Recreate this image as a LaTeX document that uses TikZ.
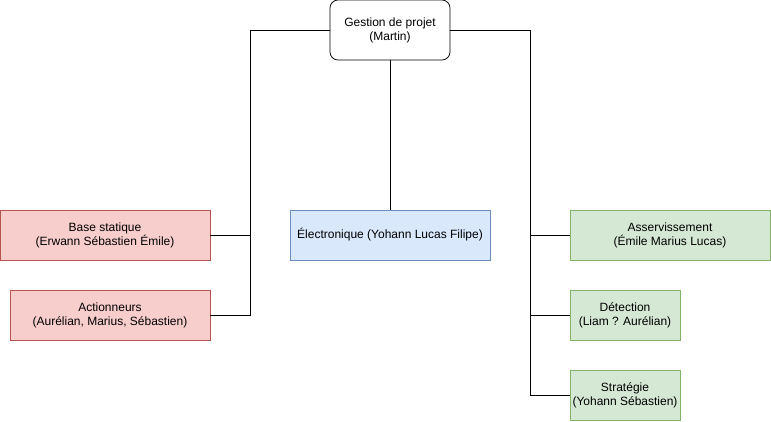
\documentclass[tikz,border=0pt]{standalone}
\usepackage{fontspec}
\setmainfont{Liberation Sans}
\definecolor{redfill}{HTML}{F8CECC}
\definecolor{redline}{HTML}{B85450}
\definecolor{bluefill}{HTML}{DAE8FC}
\definecolor{blueline}{HTML}{6C8EBF}
\definecolor{greenfill}{HTML}{D5E8D4}
\definecolor{greenline}{HTML}{82B366}
\begin{document}
\begin{tikzpicture}[x=1pt,y=-1pt,
  box/.style={draw,minimum height=50pt,align=center,inner sep=0pt,font=\fontsize{12}{14}\selectfont,line width=0.75pt},
  redbox/.style={box,fill=redfill,draw=redline},
  bluebox/.style={box,fill=bluefill,draw=blueline},
  greenbox/.style={box,fill=greenfill,draw=greenline},
  topbox/.style={box,fill=white,draw=black,rounded corners=8pt,minimum height=60pt},
  link/.style={draw=black,line width=0.75pt}]
\useasboundingbox (0,0) rectangle (771,421);
\node[topbox,minimum width=120pt] (top) at (390,30) {Gestion de projet\\(Martin)};
\node[redbox,minimum width=210pt] (base) at (105,235) {Base statique\\(Erwann Sébastien Émile)};
\node[redbox,minimum width=200pt] (act) at (110,315) {Actionneurs\\(Aurélian, Marius, Sébastien)};
\node[bluebox,minimum width=200pt] (elec) at (390,235) {Électronique (Yohann Lucas Filipe)};
\node[greenbox,minimum width=200pt] (asserv) at (670,235) {Asservissement\\(Émile Marius Lucas)};
\node[greenbox,minimum width=110pt] (det) at (625,315) {Détection\\(Liam ? Aurélian)};
\node[greenbox,minimum width=110pt] (strat) at (625,395) {Stratégie\\(Yohann Sébastien)};
\coordinate (lb) at (250,0);
\coordinate (rb) at (530,0);
\draw[link] (top.west) -- (top.west -| lb) -- (act.east -| lb) -- (act.east);
\draw[link] (base.east) -- (base.east -| lb);
\draw[link] (top.east) -- (top.east -| rb) -- (strat.west -| rb) -- (strat.west);
\draw[link] (asserv.west) -- (asserv.west -| rb);
\draw[link] (det.west) -- (det.west -| rb);
\draw[link] (top.south) -- (elec.north);
\end{tikzpicture}
\end{document}
